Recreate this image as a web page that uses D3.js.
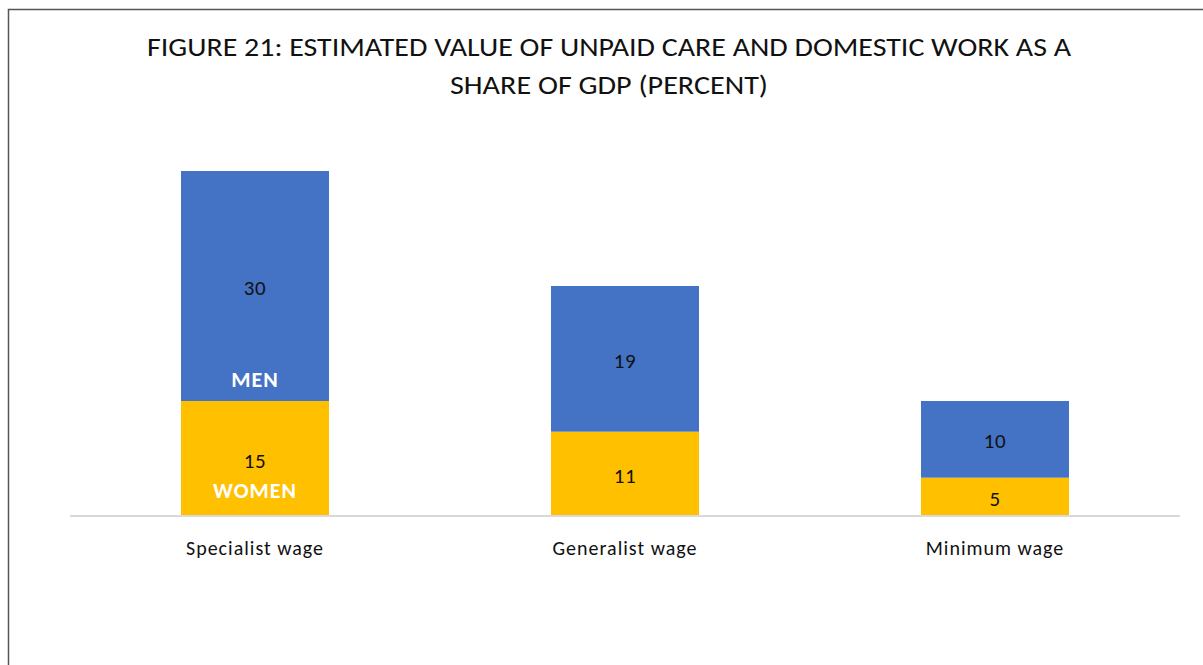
<!DOCTYPE html>
<html><head><meta charset="utf-8">
<script src="https://cdn.jsdelivr.net/npm/d3@7"></script>
<style>body{margin:0;background:#fff}svg{display:block}</style>
</head><body>
<script>
const categories = ["Specialist wage", "Generalist wage", "Minimum wage"];
const women = [15, 11, 5];
const men = [30, 19, 10];
const seriesNames = ["WOMEN", "MEN"];
const colors = ["#FFC000", "#4472C4"];
const titleLines = ["FIGURE 21: ESTIMATED VALUE OF UNPAID CARE AND DOMESTIC WORK AS A", "SHARE OF GDP (PERCENT)"];

const W = 1203, H = 665;
const svg = d3.select("body").append("svg").attr("width", W).attr("height", H);
const font = "Carlito, Calibri, Lato, 'Open Sans', sans-serif";

// frame
svg.append("rect").attr("x", 8.5).attr("y", 9.5).attr("width", 1300).attr("height", 800)
  .attr("fill", "none").attr("stroke", "#555").attr("stroke-width", 1.5);

// title
svg.append("text").attr("x", 609).attr("y", 56).attr("text-anchor", "middle")
  .attr("font-family", font).attr("font-size", 26).attr("fill", "#111")
  .attr("textLength", 924).attr("lengthAdjust", "spacingAndGlyphs").text(titleLines[0]);
svg.append("text").attr("x", 609).attr("y", 94).attr("text-anchor", "middle")
  .attr("font-family", font).attr("font-size", 26).attr("fill", "#111")
  .attr("textLength", 318).attr("lengthAdjust", "spacingAndGlyphs").text(titleLines[1]);

const x = d3.scaleBand().domain(categories).range([70, 1180]).paddingInner(0.6).paddingOuter(0.3);
const y = d3.scaleLinear().domain([0, 45]).range([516, 171]);

const data = categories.map((c, i) => ({cat: c, WOMEN: women[i], MEN: men[i]}));
const stacked = d3.stack().keys(seriesNames)(data);

const g = svg.append("g");
stacked.forEach((s, si) => {
  g.selectAll(null).data(s).enter().append("rect")
    .attr("x", d => x(d.data.cat)).attr("width", x.bandwidth())
    .attr("y", d => y(d[1])).attr("height", d => y(d[0]) - y(d[1]))
    .attr("fill", colors[si]);
  g.selectAll(null).data(s).enter().append("text")
    .attr("x", d => x(d.data.cat) + x.bandwidth() / 2)
    .attr("y", d => (y(d[0]) + y(d[1])) / 2 + 9)
    .attr("text-anchor", "middle").attr("font-family", font).attr("font-size", 21).attr("fill", "#111")
    .attr("letter-spacing", 0.5)
    .text(d => d[1] - d[0]);
});

// series labels inside first bar
const c0 = x(categories[0]) + x.bandwidth() / 2;
svg.append("text").attr("x", c0).attr("y", 387).attr("text-anchor", "middle")
  .attr("font-family", font).attr("font-weight", "bold").attr("font-size", 22).attr("letter-spacing", 1).attr("fill", "#fff").text("MEN");
svg.append("text").attr("x", c0).attr("y", 498).attr("text-anchor", "middle")
  .attr("font-family", font).attr("font-weight", "bold").attr("font-size", 22).attr("letter-spacing", 1).attr("fill", "#fff").text("WOMEN");

// axis
const axis = svg.append("g").attr("transform", "translate(0,516)")
  .call(d3.axisBottom(x).tickSize(0).tickPadding(24));
axis.select(".domain").attr("stroke", "#d9d9d9").attr("stroke-width", 2).attr("d", "M70,0H1180");
axis.selectAll("text").attr("font-family", font).attr("font-size", 20).attr("letter-spacing", 1)
  .attr("fill", "#111").attr("dy", "0.75em");
</script>
</body></html>
